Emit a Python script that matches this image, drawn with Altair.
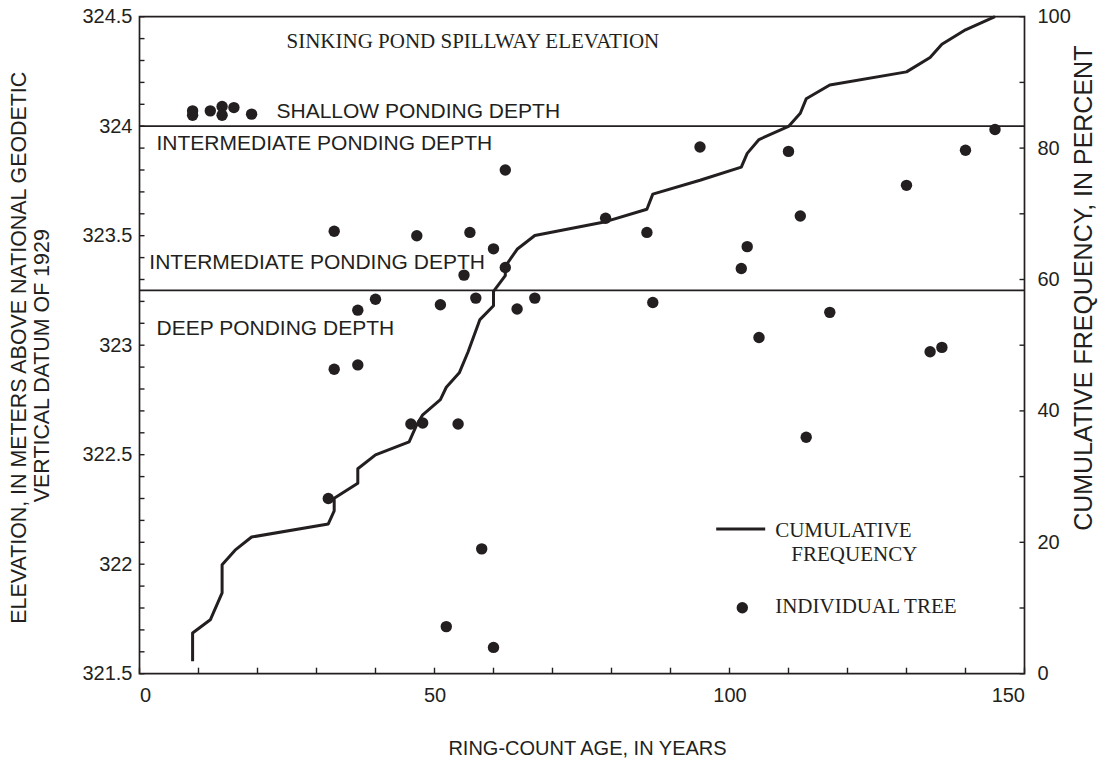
import altair as alt
import pandas as pd

# Individual trees: ring-count age (years) and ground elevation (m, NGVD 1929)
tree_age = [9, 9, 12, 14, 14, 16, 19,
            62, 33, 47, 56, 60, 62, 55,
            40, 37, 51, 57, 64, 67,
            33, 37, 46, 48, 54, 32,
            58, 52, 60,
            79, 86, 95, 102, 103, 110, 112, 130, 140, 145,
            87, 105, 117, 113, 134, 136]
tree_elev = [324.07, 324.05, 324.07, 324.09, 324.05, 324.085, 324.055,
             323.80, 323.52, 323.50, 323.515, 323.44, 323.355, 323.32,
             323.21, 323.16, 323.185, 323.215, 323.165, 323.215,
             322.89, 322.91, 322.64, 322.645, 322.64, 322.30,
             322.07, 321.715, 321.62,
             323.58, 323.515, 323.905, 323.35, 323.45, 323.885, 323.59, 323.73, 323.89, 323.985,
             323.195, 323.035, 323.15, 322.58, 322.97, 322.99]

# Cumulative frequency of tree ages (percent)
cf_age = [9, 9, 12, 14, 14, 16.2, 19, 32, 33, 33, 37, 37, 40, 45.7, 47, 48, 51, 52,
          54.2, 55.7, 57.7, 60, 60, 62, 62, 64, 67, 79, 86, 87, 95, 102, 103, 105,
          110, 112, 113, 117, 130, 134, 136, 140, 145]
cf_pct = [1.9, 6.2, 8.2, 12.3, 16.6, 18.8, 20.8, 22.8, 24.8, 26.7, 29.0, 31.2, 33.3,
          35.3, 37.9, 39.4, 41.7, 43.6, 45.8, 49.0, 53.9, 56.0, 58.2, 60.6, 62.0, 64.6,
          66.7, 68.8, 70.7, 73.0, 75.1, 77.1, 79.2, 81.3, 83.3, 85.3, 87.5, 89.6, 91.6,
          93.8, 95.8, 98.0, 100.0]

# Ponding-depth boundaries (m)
ponding_levels = [324.0, 323.25]

# Axis labels and minor ticks
age_labels = [0, 50, 100, 150]
elev_labels = [321.5, 322.0, 322.5, 323.0, 323.5, 324.0, 324.5]
pct_labels = [0, 20, 40, 60, 80, 100]
age_ticks = list(range(0, 151, 10))
elev_ticks = [round(321.5 + 0.1 * i, 1) for i in range(31)]
pct_ticks = list(range(0, 101, 10))

W, H = 885, 657
INK = "#231f20"
SANS = "Liberation Sans"
SERIF = "Liberation Serif"

xs = alt.Scale(domain=[0, 150], nice=False, zero=False)
ys_left = alt.Scale(domain=[321.5, 324.5], nice=False, zero=False)
ys_right = alt.Scale(domain=[0, 100], nice=False, zero=False)

trees = pd.DataFrame({"age": tree_age, "elevation": tree_elev})
cumfreq = pd.DataFrame({"age": cf_age, "pct": cf_pct, "order": range(len(cf_age))})
one = alt.Data(values=[{}])

x_axis = alt.Axis(
    values=age_labels, ticks=False, tickSize=0, domain=False, grid=False,
    labelFont=SANS, labelFontSize=20, labelColor=INK, labelPadding=12,
    title="RING-COUNT AGE, IN YEARS", titleFont=SANS, titleFontSize=20,
    titleFontWeight="normal", titleColor=INK, titleX=447.5, titleY=75,
    titleBaseline="middle",
)
left_axis = alt.Axis(
    values=elev_labels, format=".1~f", ticks=False, tickSize=0, domain=False, grid=False,
    labelFont=SANS, labelFontSize=20, labelColor=INK, labelPadding=7.5,
    title=None,
)
right_axis = alt.Axis(
    orient="right", values=pct_labels, ticks=False, tickSize=0, domain=False, grid=False,
    labelFont=SANS, labelFontSize=20, labelColor=INK, labelPadding=12.5,
    title="CUMULATIVE FREQUENCY, IN PERCENT", titleFont=SANS, titleFontSize=25,
    titleFontWeight="normal", titleColor=INK, titleX=58.5, titleY=271,
    titleAngle=270, titleBaseline="middle", titleAlign="center",
)

X = alt.X("age:Q", scale=xs, axis=x_axis)
Y_ELEV = alt.Y("elevation:Q", scale=ys_left, axis=left_axis)
Y_PCT = alt.Y("pct:Q", scale=ys_right, axis=right_axis)

points = alt.Chart(trees).mark_circle(size=130, opacity=1, color=INK).encode(
    x=X, y=Y_ELEV,
)

levels = alt.Chart(pd.DataFrame({"elevation": ponding_levels})).mark_rule(
    color=INK, strokeWidth=1.8
).encode(y=Y_ELEV)

# inward-pointing tick marks along the frame
x_tick_marks = alt.Chart(pd.DataFrame({"age": age_ticks})).mark_rule(
    color=INK, strokeWidth=1.4
).encode(x=X, y=alt.value(H), y2=alt.value(H - 6))

left_tick_marks = alt.Chart(pd.DataFrame({"elevation": elev_ticks})).mark_rule(
    color=INK, strokeWidth=1.4
).encode(y=Y_ELEV, x=alt.value(0), x2=alt.value(5))

left_layer = alt.layer(levels, x_tick_marks, left_tick_marks, points)

cf_line = alt.Chart(cumfreq).mark_line(color=INK, strokeWidth=3, strokeJoin="round").encode(
    x=X, y=Y_PCT, order="order:Q",
)

right_tick_marks = alt.Chart(pd.DataFrame({"pct": pct_ticks})).mark_rule(
    color=INK, strokeWidth=1.4
).encode(y=Y_PCT, x=alt.value(W - 5), x2=alt.value(W))

right_layer = alt.layer(cf_line, right_tick_marks)


def note(text, x, y, font=SANS, size=21, angle=0, align="left", baseline="alphabetic"):
    return alt.Chart(one).mark_text(
        text=text, align=align, baseline=baseline, font=font,
        fontSize=size, color=INK, angle=angle,
    ).encode(x=alt.value(x), y=alt.value(y))


# two-line elevation axis title, set vertically left of the axis labels
left_title = [
    note("ELEVATION, IN METERS ABOVE NATIONAL GEODETIC", -119.5, 331, SANS, 21.4,
         angle=270, align="center", baseline="middle"),
    note("VERTICAL DATUM OF 1929", -96.5, 349, SANS, 21.4,
         angle=270, align="center", baseline="middle"),
]

annotations = [
    note("SINKING POND SPILLWAY ELEVATION", 147, 31, SERIF, 21),
    note("SHALLOW PONDING DEPTH", 137, 101.6),
    note("INTERMEDIATE PONDING DEPTH", 17, 133.3),
    note("INTERMEDIATE PONDING DEPTH", 9.8, 252.6),
    note("DEEP PONDING DEPTH", 17, 318.3),
]

legend = [
    alt.Chart(one).mark_rule(color=INK, strokeWidth=3).encode(
        x=alt.value(576.7), x2=alt.value(625.7), y=alt.value(512.3)
    ),
    note("CUMULATIVE", 635.7, 520, SERIF, 21),
    note("FREQUENCY", 651.8, 544.5, SERIF, 21),
    alt.Chart(one).mark_circle(size=130, opacity=1, color=INK).encode(
        x=alt.value(602.8), y=alt.value(591)
    ),
    note("INDIVIDUAL TREE", 635.7, 596.6, SERIF, 21),
]

chart = alt.layer(left_layer, right_layer, *left_title, *annotations, *legend).resolve_scale(
    y="independent"
).properties(
    width=W, height=H,
    autosize=alt.AutoSizeParams(type="none"),
    padding={"left": 139.5, "top": 16.7, "right": 74.5, "bottom": 87.3},
).configure(
    background="white"
).configure_view(
    stroke=INK, strokeWidth=1.7
)

chart.save("out.html", embed_options={"renderer": "svg", "actions": False})
